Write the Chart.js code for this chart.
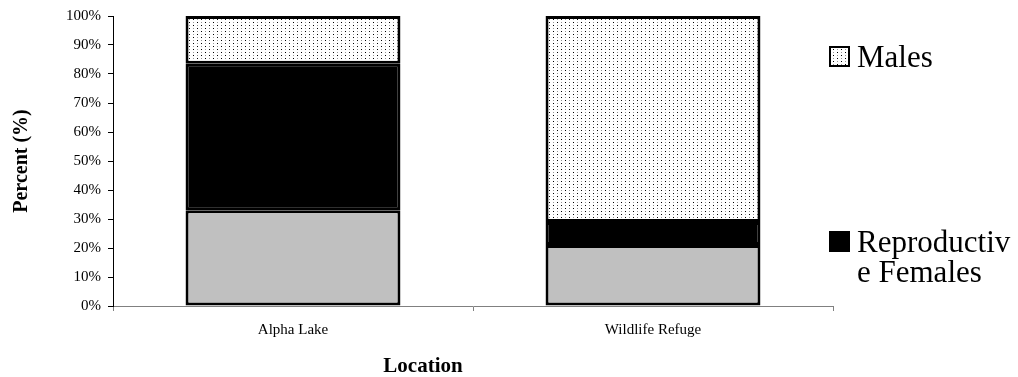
<!DOCTYPE html>
<html>
<head>
<meta charset="utf-8">
<script src="https://cdn.jsdelivr.net/npm/chart.js@4"></script>
<style>
body { margin:0; background:#fff; }
</style>
</head>
<body>
<canvas id="ikc1" width="1018" height="377"></canvas>
<script>
var locations=["Alpha Lake","Wildlife Refuge"];
var otherFemales=[33,21];
var reproFemales=[50.5,8];
var males=[16.5,71];
var yTicks=["0%","10%","20%","30%","40%","50%","60%","70%","80%","90%","100%"];
var legendItems=["Males","Reproductiv\ne Females"];

var serif="'Liberation Serif','Times New Roman',serif";

function dotPattern(){
	var c=document.createElement('canvas');
	c.width=8; c.height=6;
	var g=c.getContext('2d');
	g.fillStyle='#fff';
	g.fillRect(0,0,8,6);
	g.fillStyle='#000';
	g.fillRect(1,1,1,1);
	g.fillRect(5,4,1,1);
	g.fillStyle='#999';
	g.fillRect(5,1,1,1);
	g.fillRect(1,4,1,1);
	return document.getElementById("ikc1").getContext('2d').createPattern(c,'repeat');
}
var dots=dotPattern();

// legend + x title drawn by hand (legend text wraps like the original)
var extras={
	id:'extras',
	afterDraw:function(chart){
		var c=chart.ctx;
		c.save();
		// x axis title
		c.fillStyle='#000';
		c.font='bold 21px '+serif;
		c.textAlign='center';
		c.textBaseline='alphabetic';
		c.fillText('Location',423,372);
		// legend
		c.font='31px '+serif;
		c.textAlign='left';
		c.fillStyle=dots;
		c.fillRect(829,46,21,21);
		c.strokeStyle='#000';
		c.lineWidth=2;
		c.strokeRect(830,47,19,19);
		c.fillStyle='#000';
		c.fillText(legendItems[0],857,67);
		c.fillRect(829,231,21,21);
		var lines=legendItems[1].split('\n');
		c.fillText(lines[0],857,252);
		c.fillText(lines[1],857,282);
		c.restore();
	}
};

var ctx1=document.getElementById("ikc1").getContext('2d');
var myChart1=new Chart(ctx1,{
	type:'bar',
	data:{
		labels:locations,
		datasets:[
			{label:'Other Females',data:otherFemales,backgroundColor:'#C0C0C0'},
			{label:'Reproductive Females',data:reproFemales,backgroundColor:'#000'},
			{label:'Males',data:males,backgroundColor:dots}
		].map(function(d){
			d.borderColor='#000';
			d.borderWidth=3;
			d.borderSkipped=false;
			d.barPercentage=0.597;
			d.categoryPercentage=1;
			return d;
		})
	},
	options:{
		responsive:false,
		animation:false,
		layout:{padding:{left:6,right:185,top:13,bottom:0}},
		plugins:{legend:{display:false},tooltip:{enabled:false}},
		scales:{
			x:{
				stacked:true,
				grid:{offset:true,drawOnChartArea:false,tickLength:5,color:'#808080'},
				border:{color:'#808080',width:1},
				ticks:{color:'#000',font:{family:serif,size:15},padding:10},
				afterFit:function(s){ s.height=71; }
			},
			y:{
				stacked:true,
				min:0,max:100,
				grid:{drawOnChartArea:false,tickLength:5,color:'#000'},
				border:{color:'#000',width:1},
				ticks:{stepSize:10,color:'#000',padding:7,font:{family:serif,size:15},
					callback:function(v,i){ return yTicks[i]; }},
				title:{display:true,text:'Percent (%)',color:'#000',padding:{top:4,bottom:4},
					font:{family:serif,size:20,weight:'bold'}},
				afterFit:function(s){ s.width=107; }
			}
		}
	},
	plugins:[extras]
});
</script>
</body>
</html>
